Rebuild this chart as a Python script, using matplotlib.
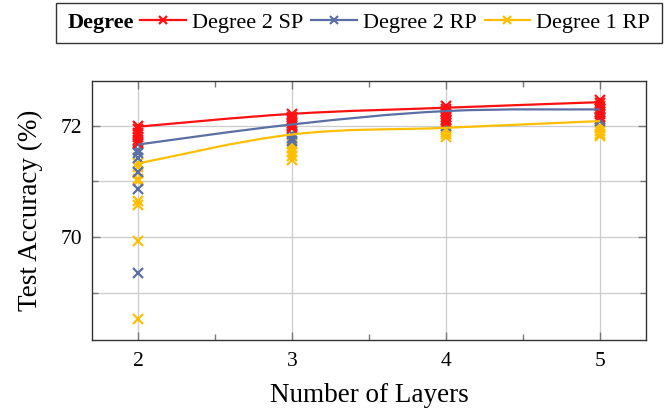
import numpy as np
import matplotlib.pyplot as plt
from matplotlib.path import Path
from matplotlib.patches import PathPatch, Rectangle
from matplotlib.lines import Line2D
from matplotlib.ticker import MultipleLocator

plt.rcParams['font.family'] = ['Liberation Serif', 'DejaVu Serif']

# ---------- data ----------
layers = [2, 3, 4, 5]

# curves (best run per depth)
sp2_line = [71.98, 72.21, 72.32, 72.42]
rp2_line = [71.66, 72.02, 72.26, 72.29]
rp1_line = [71.32, 71.84, 71.96, 72.08]

# individual runs, one list per depth
sp2_runs = [
    [71.99, 71.93, 71.87, 71.80, 71.74, 71.68],
    [72.21, 72.15, 72.10, 72.05, 72.00, 71.95],
    [72.35, 72.30, 72.25, 72.20, 72.15, 72.10, 72.05],
    [72.45, 72.40, 72.35, 72.30, 72.25, 72.20, 72.15],
]
rp2_runs = [
    [71.66, 71.57, 71.50, 71.42, 71.16, 70.86, 69.35],
    [72.02, 71.85, 71.78, 71.72],
    [72.26, 72.10, 72.00],
    [72.29, 72.12, 72.08],
]
rp1_runs = [
    [71.32, 71.25, 71.14, 71.04, 71.00, 70.65, 70.57, 69.92, 68.52],
    [71.84, 71.66, 71.60, 71.53, 71.45, 71.38],
    [71.96, 71.92, 71.88, 71.84, 71.80],
    [72.08, 72.00, 71.95, 71.90, 71.85, 71.82],
]

series = [
    ("Degree 2 SP", sp2_line, sp2_runs, "#ff1010"),
    ("Degree 2 RP", rp2_line, rp2_runs, "#5a6fa3"),
    ("Degree 1 RP", rp1_line, rp1_runs, "#ffbf00"),
]


def smooth_path(xs, ys, tension=0.55):
    # bezier through the points, like pgfplots "smooth"
    p = np.column_stack([xs, ys]).astype(float)
    n = len(p)
    k = tension / 3.0
    verts = [p[0]]
    codes = [Path.MOVETO]
    for i in range(n - 1):
        prev = p[i - 1] if i > 0 else p[i]
        nxt = p[i + 2] if i + 2 < n else p[i + 1]
        c1 = p[i] + k * (p[i + 1] - prev)
        c2 = p[i + 1] - k * (nxt - p[i])
        verts += [c1, c2, p[i + 1]]
        codes += [Path.CURVE4] * 3
    return Path(verts, codes)


fig = plt.figure(figsize=(6.67, 4.09), dpi=100)
ax = fig.add_axes([92 / 667, 1 - 340 / 409, (646 - 92) / 667, (340 - 81) / 409])

# draw order: yellow, blue, red (red on top)
for label, line, runs, col in series[::-1]:
    xs = np.concatenate([[x] * len(r) for x, r in zip(layers, runs)])
    ys = np.concatenate(runs)
    ax.plot(xs, ys, ls="none", marker="x", ms=6.5, mew=1.6, color=col, zorder=3)
    ax.add_patch(PathPatch(smooth_path(layers, line), fill=False, edgecolor=col,
                           lw=1.6, zorder=4))

ax.set_xlim(1.7, 5.3)
ax.set_ylim(68.15, 72.8)
ax.set_xticks(layers)
ax.xaxis.set_minor_locator(MultipleLocator(0.5))
ax.set_yticks([70, 72])
ax.yaxis.set_minor_locator(MultipleLocator(1))

ax.grid(True, which="major", color="#cccccc", lw=0.9)
ax.grid(True, which="minor", axis="y", color="#cccccc", lw=0.9)
ax.set_axisbelow(True)

ax.tick_params(which="both", direction="in", top=True, right=True,
               color="#777777", labelsize=15.5, width=1.0, pad=7)
ax.tick_params(axis="x", which="both", pad=9)
ax.tick_params(which="major", length=6)
ax.tick_params(which="minor", length=4)
for s in ax.spines.values():
    s.set_color("#333333")
    s.set_linewidth(1.0)

ax.set_xlabel("Number of Layers", fontsize=19.5, labelpad=8)
ax.set_ylabel("Test Accuracy (%)", fontsize=19.5, labelpad=13)

# ---------- legend (horizontal, with bold heading) ----------
fig.patches.append(Rectangle((56 / 667, 1 - 43 / 409), 606 / 667, 40 / 409,
                             transform=fig.transFigure, fill=False,
                             edgecolor="#333333", lw=1.0))
fig.text(68 / 667, 1 - 23 / 409, "Degree", fontsize=16, fontweight="bold",
         ha="left", va="center")
handles = [Line2D([], [], color=c, lw=1.6, marker="x", ms=6, mew=1.6)
           for _, _, _, c in series]
fig.legend(handles, [s[0] for s in series], ncol=3, frameon=False,
           loc="center left", bbox_to_anchor=(140 / 667, 1 - 23 / 409),
           fontsize=16, handlelength=2.05, handletextpad=0.28,
           columnspacing=0.36, borderpad=0, borderaxespad=0)

fig.savefig("out.png", dpi=100)
